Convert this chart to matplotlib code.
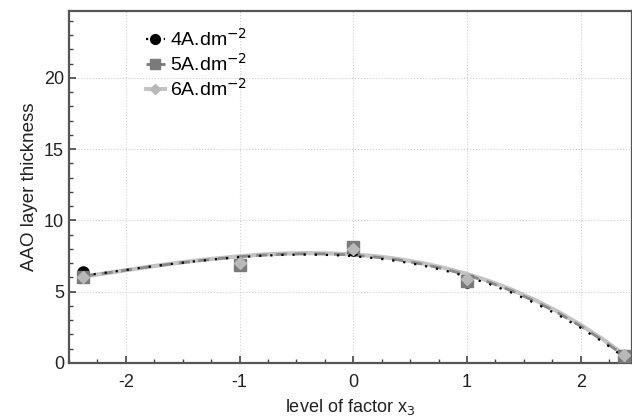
import numpy as np
import matplotlib
matplotlib.use("Agg")
import matplotlib.pyplot as plt
from matplotlib.ticker import MultipleLocator

plt.rcParams['font.family'] = ['Liberation Sans', 'DejaVu Sans']
plt.rcParams['axes.unicode_minus'] = False

# points experimentaux
niveaux = [-2.378, -1.0, 0.0, 1.0, 2.378]
ep_4A = [6.4, 6.95, 7.9, 5.7, 0.45]
ep_5A = [6.0, 6.9, 8.15, 5.75, 0.5]
ep_6A = [6.05, 7.0, 8.0, 5.85, 0.55]

# courbes
x_courbe = [-2.38, -2.2, -2.0, -1.8, -1.6, -1.4, -1.2, -1.0, -0.8, -0.6, -0.4, -0.2,
            0.0, 0.2, 0.4, 0.6, 0.8, 1.0, 1.2, 1.4, 1.6, 1.8, 2.0, 2.2, 2.38]
c_5A = [6.07, 6.27, 6.50, 6.73, 6.94, 7.13, 7.30, 7.45, 7.56, 7.63, 7.66, 7.64,
        7.56, 7.42, 7.22, 6.94, 6.59, 6.16, 5.64, 5.03, 4.31, 3.50, 2.57, 1.54, 0.50]
c_4A = [6.12, 6.30, 6.52, 6.74, 6.94, 7.12, 7.28, 7.42, 7.52, 7.58, 7.60, 7.57,
        7.49, 7.34, 7.13, 6.85, 6.49, 6.05, 5.52, 4.90, 4.18, 3.37, 2.45, 1.43, 0.40]
c_6A = [6.05, 6.26, 6.50, 6.74, 6.96, 7.16, 7.33, 7.48, 7.60, 7.67, 7.70, 7.68,
        7.61, 7.48, 7.28, 7.01, 6.66, 6.24, 5.72, 5.11, 4.40, 3.59, 2.66, 1.62, 0.58]

fig = plt.figure(figsize=(6.32, 4.19), dpi=100)
ax = fig.add_axes([0.109, 0.134, 0.891, 0.840])

ax.plot(x_courbe, c_6A, color="#c4c4c4", lw=3.0, zorder=2)
ax.plot(x_courbe, c_5A, color="#8a8a8a", lw=2.0, ls=(0, (4, 3)), zorder=3)
ax.plot(x_courbe, c_4A, color="black", lw=1.6, ls=(0, (1, 4)), zorder=4)

ax.plot(niveaux, ep_4A, "o", color="black", ms=8, zorder=5)
ax.plot(niveaux, ep_5A, "s", color="#7a7a7a", ms=9, zorder=6)
ax.plot(niveaux, ep_6A, "D", color="#b8b8b8", ms=6, zorder=7)

# poignees de legende
h4, = ax.plot([], [], color="black", lw=1.6, ls=(0, (1, 3)), marker="o", ms=7)
h5, = ax.plot([], [], color="#7a7a7a", lw=2.0, ls=(0, (3, 2)), marker="s", ms=7)
h6, = ax.plot([], [], color="#c4c4c4", lw=3.0, marker="D", mfc="#b8b8b8", mec="#b8b8b8", ms=5)
ax.legend([h4, h5, h6], ["4A.dm$^{-2}$", "5A.dm$^{-2}$", "6A.dm$^{-2}$"],
          loc="upper left", bbox_to_anchor=(0.105, 1.0), frameon=False,
          fontsize=14, handlelength=1.0, handletextpad=0.25, labelspacing=0.15,
          markerfirst=True)

ax.set_xlim(-2.5, 2.45)
ax.set_ylim(0, 24.7)
ax.xaxis.set_major_locator(MultipleLocator(1))
ax.xaxis.set_minor_locator(MultipleLocator(0.25))
ax.yaxis.set_major_locator(MultipleLocator(5))
ax.yaxis.set_minor_locator(MultipleLocator(1))
ax.tick_params(which="both", direction="in", color="#444444", labelsize=13,
               labelcolor="#222222")
ax.tick_params(which="major", length=5, width=1.2)
ax.tick_params(which="minor", length=3, width=1.0)
ax.tick_params(axis="x", pad=8)
ax.grid(True, which="major", ls=":", color="#cfcfcf", lw=0.8)
for s in ax.spines.values():
    s.set_color("#555555")
    s.set_linewidth(1.6)

ax.set_xlabel("level of factor x$_3$", fontsize=13, color="#222222")
ax.set_ylabel("AAO layer thickness", fontsize=13.5, color="#222222")

fig.savefig("out.png", dpi=100)
